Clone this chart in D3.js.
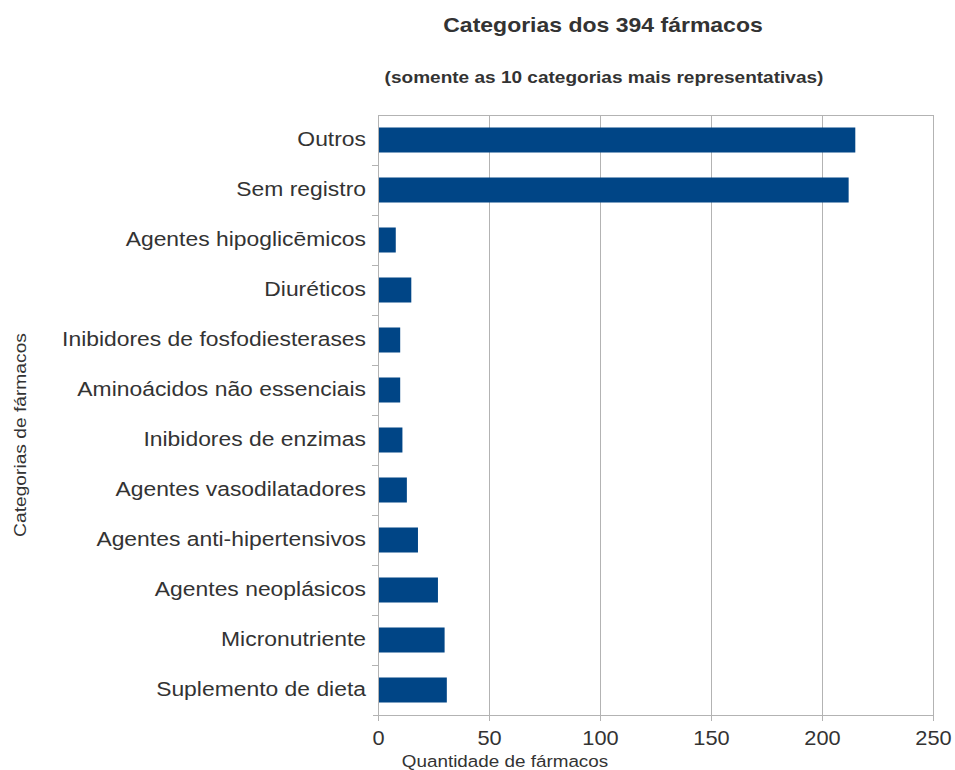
<!DOCTYPE html>
<html><head><meta charset="utf-8">
<script src="https://cdn.jsdelivr.net/npm/d3@7"></script>
<style>body{margin:0;background:#fff}svg{font-family:"Liberation Sans",Arial,sans-serif}</style>
</head><body><svg id="c" width="955" height="770"></svg>
<script>
const categories = ["Outros","Sem registro","Agentes hipoglicēmicos","Diuréticos","Inibidores de fosfodiesterases","Aminoácidos não essenciais","Inibidores de enzimas","Agentes vasodilatadores","Agentes anti-hipertensivos","Agentes neoplásicos","Micronutriente","Suplemento de dieta"];
const values = [215,212,8,15,10,10,11,13,18,27,30,31];
const xTicks = [0,50,100,150,200,250];

const svg = d3.select("#c");
const m = {left:378, right:933, top:115, bottom:715};
const x = d3.scaleLinear().domain([0,250]).range([m.left,m.right]);
const y = d3.scaleBand().domain(categories).range([m.top,m.bottom]).paddingInner(0.5).paddingOuter(0.25);
const yb = d3.scaleBand().domain(categories).range([m.top,m.bottom]);
const grid = "#b3b3b3", text = "#333";
const SX = 1.09;

// gridlines
svg.append("g").selectAll("line").data(xTicks.slice(1)).join("line")
  .attr("x1",d=>x(d)).attr("x2",d=>x(d)).attr("y1",m.top).attr("y2",m.bottom)
  .attr("stroke",grid).attr("stroke-width",1).attr("shape-rendering","crispEdges");
svg.append("line").attr("x1",m.left).attr("x2",m.right).attr("y1",m.top).attr("y2",m.top)
  .attr("stroke",grid).attr("shape-rendering","crispEdges");

// bars
svg.append("g").selectAll("rect").data(categories).join("rect")
  .attr("x",x(0)).attr("y",d=>y(d)).attr("height",y.bandwidth())
  .attr("width",(d,i)=>x(values[i])-x(0)).attr("fill","#004586");

// x axis
const xa = svg.append("g").attr("transform",`translate(0,${m.bottom})`)
  .call(d3.axisBottom(x).tickValues(xTicks).tickSize(6).tickSizeOuter(0));
xa.select(".domain").attr("stroke",grid).attr("d",`M${m.left-5},0.5H${m.right}`);
xa.selectAll(".tick line").attr("stroke",grid);
xa.selectAll(".tick text").attr("fill",text).attr("font-size",20)
  .attr("font-family","Liberation Sans, Arial, sans-serif")
  .attr("y",0).attr("dy",null)
  .attr("transform",`translate(0,30) scale(${SX},1)`);

// y axis: ticks at band boundaries
const ya = svg.append("g").attr("transform",`translate(${m.left},0)`);
ya.append("line").attr("x1",0.5).attr("x2",0.5).attr("y1",m.top).attr("y2",m.bottom+5).attr("stroke",grid);
ya.selectAll("line.t").data(categories.slice(1)).join("line").attr("class","t")
  .attr("x1",-6).attr("x2",0).attr("y1",d=>Math.round(yb(d))+0.5).attr("y2",d=>Math.round(yb(d))+0.5)
  .attr("stroke",grid);
ya.selectAll("text").data(categories).join("text")
  .attr("transform",d=>`translate(-12,${y(d)+y.bandwidth()/2}) scale(${SX},1)`)
  .attr("dy","0.3em")
  .attr("text-anchor","end").attr("font-size",21).attr("fill",text).text(d=>d);

// titles
function t(xp,yp,sx,size,weight,str,rot){
  svg.append("text").attr("transform",`translate(${xp},${yp})${rot?" rotate(-90)":""} scale(${sx},1)`)
    .attr("text-anchor","middle").attr("font-size",size).attr("font-weight",weight)
    .attr("fill",text).text(str);
}
t(603,32,1.15,20,"bold","Categorias dos 394 fármacos");
t(604,83,1.12,17,"bold","(somente as 10 categorias mais representativas)");
t(505,767,1.11,17,"normal","Quantidade de fármacos");
t(26,435,1.13,17,"normal","Categorias de fármacos",true);
</script></body></html>
